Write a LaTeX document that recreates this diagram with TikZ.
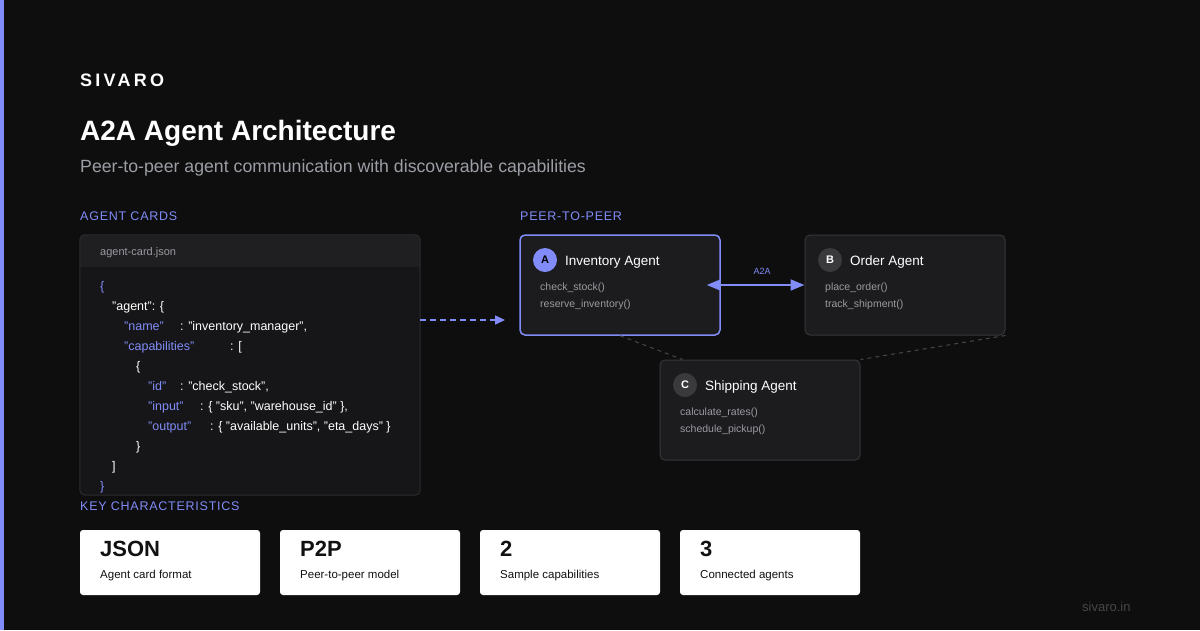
\documentclass[tikz,border=0pt]{standalone}
\usepackage{fontspec}
\setmainfont{Liberation Sans}
\newfontfamily\brandfont[LetterSpace=18]{Liberation Sans}
\newfontfamily\headfont[LetterSpace=6]{Liberation Sans}
\usetikzlibrary{arrows.meta}

\definecolor{pagebg}{HTML}{0E0E0E}
\definecolor{accent}{HTML}{818CF8}
\definecolor{panel}{HTML}{1C1C1F}
\definecolor{cardbody}{HTML}{161618}
\definecolor{cardhead}{HTML}{1F1F22}
\definecolor{cardline}{HTML}{2C2C2F}
\definecolor{boxline}{HTML}{36363A}
\definecolor{badgegray}{HTML}{3A3A3D}
\definecolor{fngray}{HTML}{9A9AA0}
\definecolor{subgray}{HTML}{9C9EA6}
\definecolor{linkgray}{HTML}{47474B}
\definecolor{footgray}{HTML}{474747}
\definecolor{statink}{HTML}{111111}

\tikzset{
  txt/.style={anchor=base west, inner sep=0pt, text=white},
  section/.style={txt, text=accent, font=\headfont\fontsize{12.5}{15}\selectfont},
  code/.style={txt, font=\fontsize{12.5}{14}\selectfont},
  key/.style={code, text=accent},
  agentbox/.style={draw=boxline, line width=1pt, fill=panel, rounded corners=5pt,
    minimum width=200pt, minimum height=100pt, inner sep=0pt},
  agentname/.style={txt, font=\fontsize{13.5}{16}\selectfont},
  fn/.style={txt, text=fngray, font=\fontsize{10.5}{12}\selectfont},
  badge/.style={circle, fill=badgegray, minimum size=24pt, inner sep=0pt,
    text=white, font=\bfseries\fontsize{11}{12}\selectfont},
  statcard/.style={fill=white, rounded corners=3pt, minimum width=180pt,
    minimum height=65pt, inner sep=0pt},
  statbig/.style={txt, text=statink, font=\bfseries\fontsize{22}{26}\selectfont},
  statsmall/.style={txt, text=statink, font=\fontsize{11.5}{14}\selectfont},
  peerlink/.style={draw=linkgray, line width=1pt, dash pattern=on 4pt off 4pt},
}

\begin{document}
\begin{tikzpicture}[x=1pt,y=-1pt]
  % page
  \fill[pagebg] (0,0) rectangle (1200,630);
  \useasboundingbox (0,0) rectangle (1200,630);
  \fill[accent] (0,0) rectangle (4,630);

  % heading
  \node[txt, font=\brandfont\bfseries\fontsize{18}{20}\selectfont] (brand) at (80,86) {SIVARO};
  \node[txt, font=\bfseries\fontsize{28}{34}\selectfont] (title) at (80,140) {A2A Agent Architecture};
  \node[txt, text=subgray, font=\fontsize{17.7}{21}\selectfont] (subtitle) at (80,172)
    {Peer-to-peer agent communication with discoverable capabilities};

  % agent card
  \node[section] (cardshead) at (80,220) {AGENT CARDS};
  \node[fill=cardbody, rounded corners=5pt, minimum width=340pt, minimum height=260pt,
    inner sep=0pt] (card) at (250,365) {};
  \begin{scope}
    \clip[rounded corners=5pt] (card.north west) rectangle (card.south east);
    \fill[cardhead] (card.north west) rectangle ([yshift=-32pt]card.north east);
  \end{scope}
  \draw[cardline, line width=1pt, rounded corners=5pt] (card.north west) rectangle (card.south east);
  \node[txt, text=fngray, font=\fontsize{11}{13}\selectfont] (cardfile) at (100,255) {agent-card.json};

  \node[key]  (l1)  at (100,290) {\{};
  \node[code] (l2)  at (112,310) {"agent": \{};
  \node[key]  (l3k) at (124,330) {"name"};
  \node[code] (l3v) at (180,330) {: "inventory\_manager",};
  \node[key]  (l4k) at (124,350) {"capabilities"};
  \node[code] (l4v) at (230,350) {: [};
  \node[code] (l5)  at (136,370) {\{};
  \node[key]  (l6k) at (148,390) {"id"};
  \node[code] (l6v) at (180,390) {: "check\_stock",};
  \node[key]  (l7k) at (148,410) {"input"};
  \node[code] (l7v) at (200,410) {: \{ "sku", "warehouse\_id" \},};
  \node[key]  (l8k) at (148,430) {"output"};
  \node[code] (l8v) at (210,430) {: \{ "available\_units", "eta\_days" \}};
  \node[code] (l9)  at (136,450) {\}};
  \node[code] (l10) at (112,470) {]};
  \node[key]  (l11) at (100,490) {\}};

  % peer-to-peer agents
  \node[section] (peerhead) at (520,220) {PEER-TO-PEER};
  \node[agentbox, draw=accent, line width=1.5pt] (inv) at (620,285) {};
  \node[agentbox] (ord)  at (905,285) {};
  \node[agentbox] (ship) at (760,410) {};

  \node[badge, fill=accent, text=black] (invbadge) at (545,260) {A};
  \node[agentname] (invname) at (565,265) {Inventory Agent};
  \node[fn] at (540,290) {check\_stock()};
  \node[fn] at (540,307) {reserve\_inventory()};

  \node[badge] (ordbadge) at (830,260) {B};
  \node[agentname] (ordname) at (850,265) {Order Agent};
  \node[fn] at (825,290) {place\_order()};
  \node[fn] at (825,307) {track\_shipment()};

  \node[badge] (shipbadge) at (685,385) {C};
  \node[agentname] (shipname) at (705,390) {Shipping Agent};
  \node[fn] at (680,415) {calculate\_rates()};
  \node[fn] at (680,432) {schedule\_pickup()};

  % connectors
  \coordinate (cardin) at (505,320);
  \draw[accent, line width=1.5pt, dash pattern=on 6pt off 4pt, -{Triangle[length=10pt,width=9pt]}]
    (card.east |- cardin) -- (cardin);
  \draw[accent, line width=2pt, {Triangle[length=14pt,width=11pt]}-{Triangle[length=14pt,width=11pt]},
    shorten <=-14pt] (inv.east) -- (ord.west);
  \node[txt, text=accent, font=\fontsize{9}{10}\selectfont, anchor=base] (a2a) at (762,274) {A2A};
  \draw[peerlink] (inv.south) -- ([xshift=23pt]ship.north west);
  \draw[peerlink] (ord.south east) -- (ship.north east);

  % key characteristics
  \node[section] (keyhead) at (80,510) {KEY CHARACTERISTICS};
  \node[statcard] (fmt)   at (170,562.5) {};
  \node[statcard] (model) at (370,562.5) {};
  \node[statcard] (caps)  at (570,562.5) {};
  \node[statcard] (peers) at (770,562.5) {};
  \node[statbig]   at (100,556) {JSON};
  \node[statsmall] at (100,578) {Agent card format};
  \node[statbig]   at (300,556) {P2P};
  \node[statsmall] at (300,578) {Peer-to-peer model};
  \node[statbig]   at (500,556) {2};
  \node[statsmall] at (500,578) {Sample capabilities};
  \node[statbig]   at (700,556) {3};
  \node[statsmall] at (700,578) {Connected agents};

  \node[txt, text=footgray, font=\fontsize{13}{15}\selectfont] (footer) at (1082,611) {sivaro.in};
\end{tikzpicture}
\end{document}
